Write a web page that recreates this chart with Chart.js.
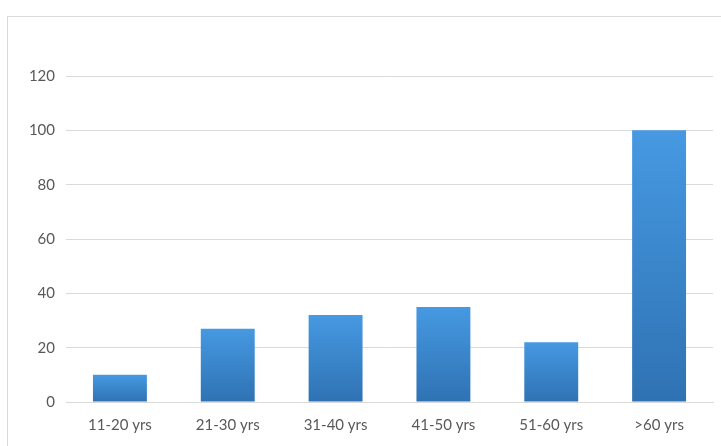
<!DOCTYPE html>
<html>
<head>
<meta charset="utf-8">
<script src="https://cdn.jsdelivr.net/npm/chart.js@4/dist/chart.umd.min.js"></script>
<style>
  html, body { margin: 0; padding: 0; background: #ffffff; }
  #wrap { position: relative; width: 721px; height: 446px; overflow: hidden; }
  #frame { position: absolute; left: 7px; top: 16px; width: 760px; height: 480px; border: 1px solid #d9d9d9; box-sizing: border-box; }
  canvas { position: absolute; left: 0; top: 0; }
</style>
</head>
<body>
<div id="wrap">
  <div id="frame"></div>
  <canvas id="c" width="721" height="446"></canvas>
</div>
<script>
// Age groups and counts
const categories = ['11-20 yrs', '21-30 yrs', '31-40 yrs', '41-50 yrs', '51-60 yrs', '>60 yrs'];
const counts = [10, 27, 32, 35, 22, 100];
const yTicks = [0, 20, 40, 60, 80, 100, 120];

const TEXT = '#595959';
const GRID = '#d9d9d9';
const FONT = { family: 'Lato, "Open Sans", sans-serif', size: 15 };

// Each bar gets its own vertical gradient: lighter at the top, darker at the base
function barGradient(ctx) {
  const chart = ctx.chart;
  const y = chart.scales && chart.scales.y;
  if (!chart.chartArea || !y || ctx.parsed === undefined) return '#3f8fd8';
  const top = y.getPixelForValue(ctx.parsed.y);
  const base = y.getPixelForValue(0);
  if (!isFinite(top) || !isFinite(base) || top === base) return '#3f8fd8';
  const g = chart.ctx.createLinearGradient(0, top, 0, base);
  g.addColorStop(0, '#4699e2');
  g.addColorStop(1, '#2f72b3');
  return g;
}

new Chart(document.getElementById('c'), {
  type: 'bar',
  data: {
    labels: categories,
    datasets: [{
      data: counts,
      backgroundColor: barGradient,
      borderWidth: 0,
      categoryPercentage: 1.0,
      barPercentage: 0.5
    }]
  },
  options: {
    responsive: false,
    animation: false,
    devicePixelRatio: 1,
    layout: { padding: { top: 76, right: 8, bottom: 0, left: 0 } },
    plugins: { legend: { display: false }, tooltip: { enabled: false } },
    scales: {
      x: {
        grid: { display: false, drawTicks: false },
        border: { display: true, color: GRID, width: 1 },
        ticks: { color: TEXT, font: FONT, padding: 14, maxRotation: 0 },
        afterFit(scale) { scale.height = 44; }
      },
      y: {
        min: 0,
        max: 120,
        afterBuildTicks(scale) { scale.ticks = yTicks.map(v => ({ value: v })); },
        grid: { color: GRID, lineWidth: 1, drawTicks: false },
        border: { display: false },
        ticks: { color: TEXT, font: FONT, padding: 11 },
        afterFit(scale) { scale.width = 66; }
      }
    }
  }
});
</script>
</body>
</html>
